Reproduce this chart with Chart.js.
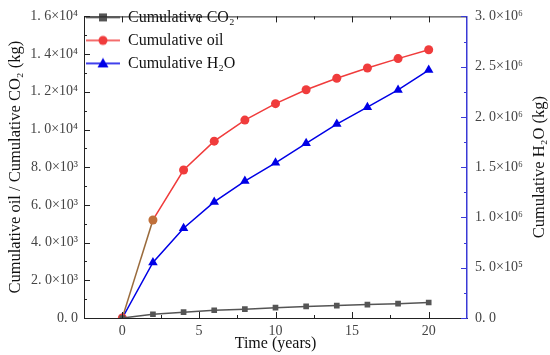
<!DOCTYPE html>
<html>
<head>
<meta charset="utf-8">
<script src="https://cdn.jsdelivr.net/npm/chart.js@4.4.1/dist/chart.umd.min.js"></script>
<style>
  html, body { margin: 0; padding: 0; background: #fff; }
  #wrap { width: 550px; height: 355px; }
</style>
</head>
<body>
<div id="wrap"><canvas id="c" width="550" height="355"></canvas></div>
<script>
var years = [0, 2, 4, 6, 8, 10, 12, 14, 16, 18, 20];
var co2 = [0, 200, 310, 410, 470, 550, 615, 660, 710, 760, 820];
var oil = [0, 5200, 7850, 9380, 10500, 11370, 12110, 12720, 13260, 13760, 14230];
var water = [0, 553000, 893000, 1155000, 1362000, 1544000, 1738000, 1929000, 2097000, 2269000, 2466000];

var xTicks = [0, 5, 10, 15, 20];
var leftTicks = [0, 2000, 4000, 6000, 8000, 10000, 12000, 14000, 16000];
var leftLabels = ['0. 0', '2. 0×10³', '4. 0×10³', '6. 0×10³', '8. 0×10³', '1. 0×10⁴', '1. 2×10⁴', '1. 4×10⁴', '1. 6×10⁴'];
var rightTicks = [0, 500000, 1000000, 1500000, 2000000, 2500000, 3000000];
var rightLabels = ['0. 0', '5. 0×10⁵', '1. 0×10⁶', '1. 5×10⁶', '2. 0×10⁶', '2. 5×10⁶', '3. 0×10⁶'];

var serif = '"Liberation Serif", "Times New Roman", serif';
var grey = '#555555', red = '#f03c3c', blue = '#0000e6', brown = '#9a6b3c', axisBlue = '#3a3ad6';

// legend sample: line with marker in the middle
function sample(color, style) {
  var cv = document.createElement('canvas');
  cv.width = 34; cv.height = 12;
  var g = cv.getContext('2d');
  g.strokeStyle = color; g.lineWidth = 1.5;
  g.beginPath(); g.moveTo(0, 6); g.lineTo(34, 6); g.stroke();
  g.fillStyle = color;
  if (style === 'rect') g.fillRect(13, 2, 8, 8);
  else if (style === 'circle') { g.beginPath(); g.arc(17, 6, 4.5, 0, Math.PI * 2); g.fill(); }
  else { g.beginPath(); g.moveTo(17, 0.5); g.lineTo(22.5, 10); g.lineTo(11.5, 10); g.closePath(); g.fill(); }
  return cv;
}
var samples = [sample(grey, 'rect'), sample(red, 'circle'), sample(blue, 'tri')];

function pairs(ys) {
  return years.map(function (x, i) { return { x: x, y: ys[i] }; });
}

// inward tick marks, top frame, right-hand title
var frame = {
  id: 'frame',
  afterLayout: function (chart) {
    var lg = chart.legend;
    if (lg) { lg.left = chart.chartArea.left - 5; lg.top = chart.chartArea.top - 14; }
  },
  afterDraw: function (chart) {
    var ctx = chart.ctx, a = chart.chartArea;
    var sx = chart.scales.x, sy = chart.scales.y, sy2 = chart.scales.y2;
    ctx.save();
    ctx.lineWidth = 1;
    ctx.strokeStyle = '#222';
    ctx.beginPath(); ctx.moveTo(a.left, a.top + 0.5); ctx.lineTo(a.right, a.top + 0.5); ctx.stroke();
    ctx.beginPath();
    xTicks.forEach(function (v) {
      var p = Math.round(sx.getPixelForValue(v)) + 0.5;
      ctx.moveTo(p, a.bottom); ctx.lineTo(p, a.bottom - 6);
      ctx.moveTo(p, a.top); ctx.lineTo(p, a.top + 6);
      if (v + 2.5 < sx.max) {
        var m = Math.round(sx.getPixelForValue(v + 2.5)) + 0.5;
        ctx.moveTo(m, a.bottom); ctx.lineTo(m, a.bottom - 3);
        ctx.moveTo(m, a.top); ctx.lineTo(m, a.top + 3);
      }
    });
    leftTicks.forEach(function (v, i) {
      var p = Math.round(sy.getPixelForValue(v)) + 0.5;
      ctx.moveTo(a.left, p); ctx.lineTo(a.left + 6, p);
      if (i < leftTicks.length - 1) {
        var m = Math.round(sy.getPixelForValue(v + 1000)) + 0.5;
        ctx.moveTo(a.left, m); ctx.lineTo(a.left + 3, m);
      }
    });
    ctx.stroke();
    ctx.strokeStyle = axisBlue;
    ctx.beginPath();
    rightTicks.forEach(function (v, i) {
      var p = Math.round(sy2.getPixelForValue(v)) + 0.5;
      ctx.moveTo(a.right, p); ctx.lineTo(a.right - 6, p);
      if (i < rightTicks.length - 1) {
        var m = Math.round(sy2.getPixelForValue(v + 250000)) + 0.5;
        ctx.moveTo(a.right, m); ctx.lineTo(a.right - 3, m);
      }
    });
    ctx.stroke();
    // right axis title, reading bottom to top like the left one
    ctx.translate(540, (a.top + a.bottom) / 2);
    ctx.rotate(-Math.PI / 2);
    ctx.fillStyle = '#111';
    ctx.font = '16.5px ' + serif;
    ctx.textAlign = 'center';
    ctx.textBaseline = 'middle';
    ctx.fillText('Cumulative H₂O (kg)', 0, 0);
    ctx.restore();
  }
};

new Chart(document.getElementById('c'), {
  type: 'line',
  data: {
    datasets: [{
      label: 'Cumulative CO₂',
      data: pairs(co2),
      yAxisID: 'y',
      borderColor: grey,
      backgroundColor: grey,
      borderWidth: 1.5,
      pointStyle: 'rect',
      pointRadius: 4,
      pointBorderWidth: 0
    }, {
      label: 'Cumulative oil',
      data: pairs(oil),
      yAxisID: 'y',
      borderColor: red,
      backgroundColor: years.map(function (x, i) { return i === 1 ? '#c0703a' : red; }),
      borderWidth: 1.5,
      pointStyle: 'circle',
      pointRadius: 4.5,
      pointBorderWidth: 0,
      segment: { borderColor: function (c) { return c.p0DataIndex === 0 ? brown : red; } }
    }, {
      label: 'Cumulative H₂O',
      data: pairs(water),
      yAxisID: 'y2',
      borderColor: blue,
      backgroundColor: blue,
      borderWidth: 1.5,
      pointStyle: 'triangle',
      pointRadius: 5.5,
      pointBorderWidth: 0
    }]
  },
  options: {
    responsive: false,
    animation: false,
    layout: { padding: { top: 9, right: 0, left: 0, bottom: 0 } },
    plugins: {
      tooltip: { enabled: false },
      legend: {
        position: 'chartArea',
        align: 'start',
        labels: {
          usePointStyle: true,
          pointStyleWidth: 34,
          padding: 7,
          color: '#111',
          font: { family: 'Liberation Serif', size: 16 },
          generateLabels: function (chart) {
            var items = Chart.defaults.plugins.legend.labels.generateLabels(chart);
            items.forEach(function (it, i) { it.pointStyle = samples[i]; });
            return items;
          }
        }
      }
    },
    scales: {
      x: {
        type: 'linear',
        min: -2.5,
        max: 22.5,
        afterFit: function (s) { s.height = 37; },
        afterBuildTicks: function (s) { s.ticks = xTicks.map(function (v) { return { value: v }; }); },
        grid: { display: false, drawTicks: false },
        border: { color: '#222', width: 1 },
        ticks: { color: '#444', font: { family: serif, size: 14 }, padding: 5,
          callback: function (v) { return String(v); } },
        title: { display: true, text: 'Time (years)', color: '#111',
          font: { family: serif, size: 16 }, padding: { top: 0, bottom: 2 } }
      },
      y: {
        position: 'left',
        min: 0,
        max: 16000,
        afterFit: function (s) { s.width = 84; },
        afterBuildTicks: function (s) { s.ticks = leftTicks.map(function (v) { return { value: v }; }); },
        grid: { display: false, drawTicks: false },
        border: { color: '#222', width: 1 },
        ticks: { color: '#444', font: { family: serif, size: 14 }, padding: 6,
          callback: function (v) { return leftLabels[leftTicks.indexOf(v)]; } },
        title: { display: true, text: 'Cumulative oil / Cumulative CO₂ (kg)', color: '#111',
          font: { family: serif, size: 16.5 }, padding: { top: 6, bottom: 0 } }
      },
      y2: {
        position: 'right',
        min: 0,
        max: 3000000,
        afterFit: function (s) { s.width = 83; },
        afterBuildTicks: function (s) { s.ticks = rightTicks.map(function (v) { return { value: v }; }); },
        grid: { display: false, drawTicks: false },
        border: { color: axisBlue, width: 1.5 },
        ticks: { color: '#444', font: { family: serif, size: 14 }, padding: 8,
          callback: function (v) { return rightLabels[rightTicks.indexOf(v)]; } },
        title: { display: false }
      }
    }
  },
  plugins: [frame]
});
</script>
</body>
</html>
